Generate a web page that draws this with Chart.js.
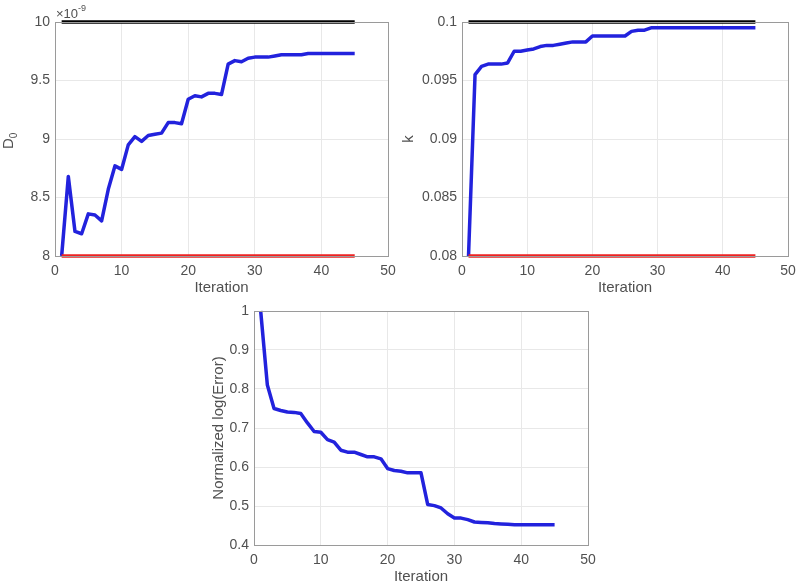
<!DOCTYPE html>
<html>
<head>
<meta charset="utf-8">
<script src="https://cdn.jsdelivr.net/npm/chart.js@4.4.1/dist/chart.umd.min.js"></script>
<style>
  body { margin: 0; background: #fff; }
  #wrap { position: relative; width: 800px; height: 588px; overflow: hidden; }
  canvas { position: absolute; }
</style>
</head>
<body>
<div id="wrap">
  <canvas id="chartErr" style="left:210px;top:295px;width:390px;height:293px" width="390" height="293"></canvas>
  <canvas id="chartD0" style="left:0px;top:0px;width:400px;height:300px" width="400" height="300"></canvas>
  <canvas id="chartK" style="left:400px;top:0px;width:400px;height:300px" width="400" height="300"></canvas>
</div>
<script>
var iterations = [1, 2, 3, 4, 5, 6, 7, 8, 9, 10, 11, 12, 13, 14, 15, 16, 17, 18, 19, 20,
    21, 22, 23, 24, 25, 26, 27, 28, 29, 30, 31, 32, 33, 34, 35, 36, 37, 38, 39, 40,
    41, 42, 43, 44, 45];

// D0 in units of 1e-9
var d0_values = [8.00, 8.68, 8.21, 8.19, 8.36, 8.35, 8.30, 8.57, 8.77, 8.74,
    8.95, 9.02, 8.98, 9.03, 9.04, 9.05, 9.14, 9.14, 9.13, 9.34,
    9.37, 9.36, 9.39, 9.39, 9.38, 9.64, 9.67, 9.66, 9.69, 9.70,
    9.70, 9.70, 9.71, 9.72, 9.72, 9.72, 9.72, 9.73, 9.73, 9.73,
    9.73, 9.73, 9.73, 9.73, 9.73];
var d0_upper = 10;
var d0_lower = 8;
var d0_ticks = [8, 8.5, 9, 9.5, 10];

var k_values = [0.0800, 0.0955, 0.0962, 0.0964, 0.0964, 0.0964, 0.0965, 0.0975, 0.0975, 0.0976,
    0.0977, 0.0979, 0.0980, 0.0980, 0.0981, 0.0982, 0.0983, 0.0983, 0.0983, 0.0988,
    0.0988, 0.0988, 0.0988, 0.0988, 0.0988, 0.0992, 0.0993, 0.0993, 0.0995, 0.0995,
    0.0995, 0.0995, 0.0995, 0.0995, 0.0995, 0.0995, 0.0995, 0.0995, 0.0995, 0.0995,
    0.0995, 0.0995, 0.0995, 0.0995, 0.0995];
var k_upper = 0.1;
var k_lower = 0.08;
var k_ticks = [0.08, 0.085, 0.09, 0.095, 0.1];

var err_values = [1.000, 0.810, 0.750, 0.745, 0.741, 0.740, 0.737, 0.713, 0.691, 0.689,
    0.670, 0.664, 0.643, 0.638, 0.638, 0.632, 0.626, 0.626, 0.621, 0.596,
    0.591, 0.589, 0.585, 0.585, 0.585, 0.504, 0.501, 0.495, 0.480, 0.469,
    0.469, 0.465, 0.459, 0.458, 0.457, 0.455, 0.454, 0.453, 0.452, 0.452,
    0.452, 0.452, 0.452, 0.452, 0.452];
var err_ticks = [0.4, 0.5, 0.6, 0.7, 0.8, 0.9, 1];

var x_ticks = [0, 10, 20, 30, 40, 50];

var textColor = '#505050';
var fontFamily = '"Liberation Sans", Arial, sans-serif';

function toPoints(xs, ys) {
    var pts = [];
    for (var i = 0; i < xs.length; i++) {
        pts.push({ x: xs[i], y: ys[i] });
    }
    return pts;
}

function flatLine(value) {
    return [{ x: iterations[0], y: value }, { x: iterations[iterations.length - 1], y: value }];
}

// box around the plot area like matlab's "box on", plus the x10^-9 and D_0 labels
var boxPlugin = {
    id: 'box',
    afterDraw: function(chart, args, opts) {
        var a = chart.chartArea;
        var ctx = chart.ctx;
        ctx.save();
        ctx.strokeStyle = '#9a9a9a';
        ctx.lineWidth = 1;
        ctx.strokeRect(a.left + 0.5, a.top + 0.5, a.right - a.left, a.bottom - a.top);
        ctx.fillStyle = textColor;
        ctx.textBaseline = 'alphabetic';
        ctx.textAlign = 'left';
        if (opts.exponent) {
            ctx.font = '13px ' + fontFamily;
            ctx.fillText('\u00d710', a.left + 1, a.top - 4);
            var w = ctx.measureText('\u00d710').width;
            ctx.font = '9px ' + fontFamily;
            ctx.fillText('-9', a.left + 1 + w, a.top - 11);
        }
        if (opts.subLabel) {
            // rotated "D" with subscript "0"
            ctx.translate(opts.subLabel.x, opts.subLabel.y);
            ctx.rotate(-Math.PI / 2);
            ctx.font = '15px ' + fontFamily;
            var dw = ctx.measureText(opts.subLabel.main).width;
            ctx.fillText(opts.subLabel.main, -7, 3);
            ctx.font = '10px ' + fontFamily;
            ctx.fillText(opts.subLabel.sub, -7 + dw, 7);
        }
        ctx.restore();
    }
};

function makeChart(id, datasets, yTicks, yTitle, layout, extra) {
    var ctx = document.getElementById(id).getContext('2d');
    return new Chart(ctx, {
        type: 'line',
        data: { datasets: datasets },
        plugins: [boxPlugin],
        options: {
            responsive: false,
            animation: false,
            events: [],
            layout: { padding: { left: 0, top: layout.top, right: layout.right, bottom: 0 } },
            plugins: {
                legend: { display: false },
                tooltip: { enabled: false },
                box: extra
            },
            elements: {
                point: { radius: 0 },
                line: { tension: 0, borderWidth: 3.5, borderJoinStyle: 'round', borderCapStyle: 'butt' }
            },
            scales: {
                x: {
                    type: 'linear',
                    min: 0,
                    max: 50,
                    afterFit: function(scale) {
                        scale.height = layout.xHeight;
                        scale.paddingRight = 0;
                        scale.paddingLeft = 0;
                    },
                    afterBuildTicks: function(scale) {
                        scale.ticks = x_ticks.map(function(v) { return { value: v }; });
                    },
                    grid: { color: '#e8e8e8', drawTicks: false },
                    border: { color: '#9a9a9a' },
                    ticks: { color: textColor, font: { size: 14, family: fontFamily }, padding: 7, maxRotation: 0 },
                    title: {
                        display: true, text: 'Iteration', color: textColor,
                        font: { size: 15, family: fontFamily }, padding: { top: 0, bottom: layout.xTitlePad }
                    }
                },
                y: {
                    type: 'linear',
                    min: yTicks[0],
                    max: yTicks[yTicks.length - 1],
                    afterFit: function(scale) { scale.width = layout.yWidth; },
                    afterBuildTicks: function(scale) {
                        scale.ticks = yTicks.map(function(v) { return { value: v }; });
                    },
                    grid: { color: '#e8e8e8', drawTicks: false },
                    border: { color: '#9a9a9a' },
                    ticks: {
                        color: textColor, font: { size: 14, family: fontFamily }, padding: 5,
                        callback: function(v) { return String(Number(v.toFixed(4))); }
                    },
                    title: {
                        display: yTitle !== '', text: yTitle, color: textColor,
                        font: { size: 15, family: fontFamily }, padding: { top: 0, bottom: 0 }
                    }
                }
            }
        }
    });
}

makeChart('chartD0', [
    { data: flatLine(d0_upper), borderColor: '#000000', clip: false },
    { data: flatLine(d0_lower), borderColor: '#ee2222', clip: false },
    { data: toPoints(iterations, d0_values), borderColor: '#2222dd', clip: false }
], d0_ticks, '', { top: 22, right: 12, yWidth: 55, xHeight: 44, xTitlePad: 3 },
    { exponent: true, subLabel: { main: 'D', sub: '0', x: 10, y: 142 } });

makeChart('chartK', [
    { data: flatLine(k_upper), borderColor: '#000000', clip: false },
    { data: flatLine(k_lower), borderColor: '#ee2222', clip: false },
    { data: toPoints(iterations, k_values), borderColor: '#2222dd', clip: false }
], k_ticks, 'k', { top: 22, right: 12, yWidth: 62, xHeight: 44, xTitlePad: 3 }, {});

makeChart('chartErr', [
    { data: toPoints(iterations, err_values), borderColor: '#2222dd', clip: false }
], err_ticks, 'Normalized log(Error)', { top: 16, right: 12, yWidth: 44, xHeight: 43, xTitlePad: 2 }, {});
</script>
</body>
</html>
